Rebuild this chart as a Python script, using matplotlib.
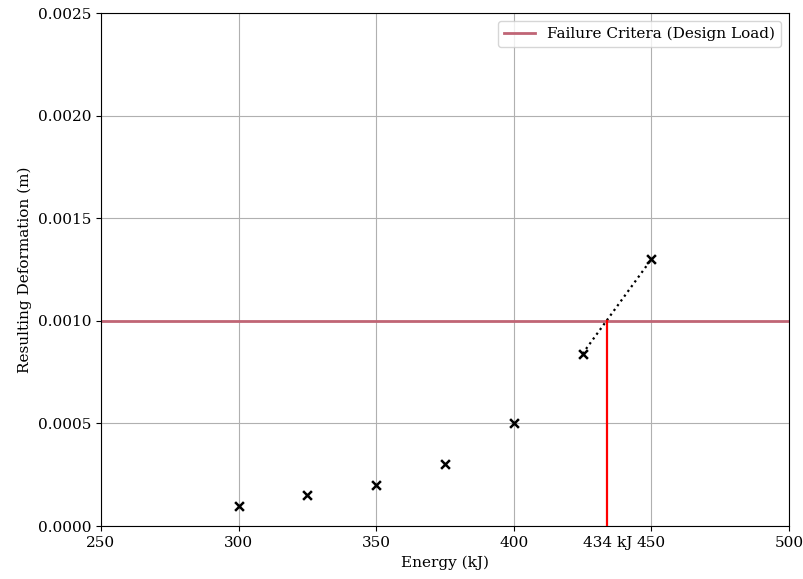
import matplotlib.pyplot as plt

plt.rcParams["font.family"] = "DejaVu Serif"
plt.rcParams["font.size"] = 11

# data
energy = [300, 325, 350, 375, 400, 425, 450]
deformation = [0.0001, 0.00015, 0.0002, 0.0003, 0.0005, 0.00084, 0.0013]

failure_limit = 0.001
failure_energy = 434

fig = plt.figure(figsize=(8.04, 5.79), dpi=100)
ax = fig.add_axes([0.1256, 0.0915, 0.8557, 0.886])

ax.axhline(failure_limit, color="#c06575", lw=2, label="Failure Critera (Design Load)", zorder=2)

# dotted extrapolation between last two points
ax.plot(energy[-2:], deformation[-2:], color="black", linestyle=":", lw=1.6, zorder=3)

ax.scatter(energy, deformation, marker="x", color="black", s=40, linewidths=1.8, zorder=4)

ax.plot([failure_energy, failure_energy], [0, failure_limit], color="red", lw=1.6, zorder=3)

ax.annotate(
    f"{failure_energy} kJ",
    xy=(failure_energy, 0),
    xycoords=("data", "axes fraction"),
    xytext=(0, -7),
    textcoords="offset points",
    ha="center",
    va="top",
)

ax.set_xlim(250, 500)
ax.set_ylim(0, 0.0025)
ax.set_xticks([250, 300, 350, 400, 450, 500])
ax.set_yticks([0, 0.0005, 0.001, 0.0015, 0.002, 0.0025])
ax.set_yticklabels([f"{v:.4f}" for v in [0, 0.0005, 0.001, 0.0015, 0.002, 0.0025]])

ax.set_xlabel("Energy (kJ)")
ax.set_ylabel("Resulting Deformation (m)")
ax.grid(True, color="#b0b0b0", lw=0.8)
ax.set_axisbelow(True)
ax.legend(loc="upper right")

plt.savefig("out.png", dpi=100)
